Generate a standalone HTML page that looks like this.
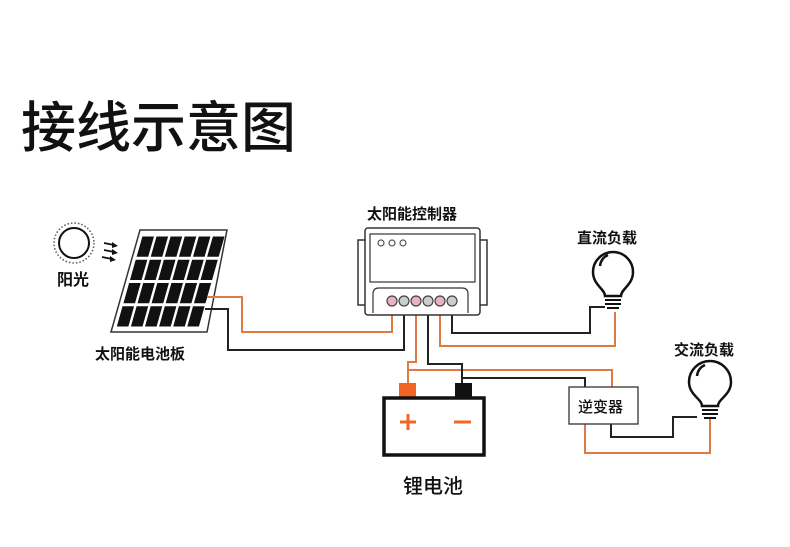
<!DOCTYPE html>
<html><head><meta charset="utf-8"><style>
html,body{margin:0;padding:0;background:#fff;}
svg{display:block;}
text{font-family:"Liberation Sans","Noto Sans CJK SC",sans-serif;fill:#111;}
</style></head><body>
<svg width="790" height="547" viewBox="0 0 790 547" xmlns="http://www.w3.org/2000/svg">
<defs>
<polygon id="r0" points="142.4,236.5 154,236.5 148.2,256.75 136.6,256.75"/>
<polygon id="r1" points="135.7,259.75 147.3,259.75 141.6,280 130,280"/>
<polygon id="r2" points="129.1,283 140.7,283 135,303.25 123.4,303.25"/>
<polygon id="r3" points="122.5,306.25 134.1,306.25 128.4,326.5 116.8,326.5"/>
</defs>
<text x="21" y="147" font-size="55" font-weight="500">接线示意图</text>

<!-- sun -->
<circle cx="74" cy="243" r="15" fill="none" stroke="#111" stroke-width="2"/>
<circle cx="74" cy="243" r="20" fill="none" stroke="#555" stroke-width="1.5" stroke-dasharray="1.5 2"/>
<g stroke="#111" stroke-width="1.8">
<line x1="104" y1="243" x2="114" y2="245"/><line x1="104" y1="250" x2="114" y2="252"/><line x1="102" y1="257" x2="112" y2="259"/>
</g>
<g fill="#111"><polygon points="118,246 112,242 112,248"/><polygon points="118,253 112,249 112,255"/><polygon points="116,260 110,256 110,262"/></g>
<text x="57" y="285" font-size="16" font-weight="bold">阳光</text>

<!-- panel -->
<polygon points="140,230 227,230 207,332 111,332" fill="#fff" stroke="#333" stroke-width="1.5"/>
<g fill="#111">
<use href="#r0"/><use href="#r0" x="14.1"/><use href="#r0" x="28.2"/><use href="#r0" x="42.3"/><use href="#r0" x="56.4"/><use href="#r0" x="70.5"/>
<use href="#r1"/><use href="#r1" x="14.1"/><use href="#r1" x="28.2"/><use href="#r1" x="42.3"/><use href="#r1" x="56.4"/><use href="#r1" x="70.5"/>
<use href="#r2"/><use href="#r2" x="14.1"/><use href="#r2" x="28.2"/><use href="#r2" x="42.3"/><use href="#r2" x="56.4"/><use href="#r2" x="70.5"/>
<use href="#r3"/><use href="#r3" x="14.1"/><use href="#r3" x="28.2"/><use href="#r3" x="42.3"/><use href="#r3" x="56.4"/><use href="#r3" x="70.5"/>
</g>
<text x="95" y="359" font-size="15" font-weight="bold">太阳能电池板</text>

<!-- wires -->
<g fill="none" stroke-width="2">
<polyline stroke="#e07a45" points="207,297 242,297 242,332 392,332 392,315"/>
<polyline stroke="#222" points="205,309 228,309 228,350 404,350 404,315"/>
<polyline stroke="#e07a45" points="416,315 416,362 408,362 408,384"/>
<polyline stroke="#e07a45" points="408,370 612,370 612,387"/>
<polyline stroke="#222" points="428,315 428,364 462,364 462,384"/>
<polyline stroke="#222" points="462,378 585,378 585,387"/>
<polyline stroke="#e07a45" points="440,315 440,346 615,346 615,312"/>
<polyline stroke="#222" points="452,315 452,333 590,333 590,307 605,307"/>
<polyline stroke="#e07a45" points="585,424 585,453 710,453 710,418"/>
<polyline stroke="#222" points="611,424 611,437 673,437 673,417 697,417"/>
</g>

<!-- controller -->
<text x="367" y="219" font-size="15" font-weight="bold">太阳能控制器</text>
<rect x="358" y="240" width="8" height="65" fill="#fff" stroke="#333" stroke-width="1.5"/>
<rect x="479" y="240" width="8" height="65" fill="#fff" stroke="#333" stroke-width="1.5"/>
<rect x="365" y="228" width="115" height="87" rx="3" fill="#fff" stroke="#333" stroke-width="1.5"/>
<rect x="370" y="234" width="105" height="48" fill="#fff" stroke="#333" stroke-width="1.2"/>
<g fill="none" stroke="#555" stroke-width="1.2"><circle cx="381" cy="243" r="3"/><circle cx="392" cy="243" r="3"/><circle cx="403" cy="243" r="3"/></g>
<path d="M373 313 L373 294 Q373 288 379 288 L462 288 Q468 288 468 294 L468 313" fill="#fff" stroke="#333" stroke-width="1.2"/>
<g stroke="#444" stroke-width="1.2">
<circle cx="392" cy="301" r="5" fill="#e8b4c0"/><circle cx="404" cy="301" r="5" fill="#ccc"/>
<circle cx="416" cy="301" r="5" fill="#e8b4c0"/><circle cx="428" cy="301" r="5" fill="#ccc"/>
<circle cx="440" cy="301" r="5" fill="#e8b4c0"/><circle cx="452" cy="301" r="5" fill="#ccc"/>
</g>

<!-- DC bulb -->
<text x="577" y="243" font-size="15" font-weight="bold">直流负载</text>
<path d="M605 296 C605 289 593 285 593 272 A20 20 0 1 1 633 272 C633 285 621 289 621 296 Z" fill="#fff" stroke="#111" stroke-width="2.5"/>
<path d="M600 266 Q601 258 608 255" fill="none" stroke="#111" stroke-width="2.5"/>
<g stroke="#111" stroke-width="2"><line x1="605" y1="300" x2="621" y2="300"/><line x1="605" y1="304" x2="621" y2="304"/><line x1="607" y1="308" x2="619" y2="308"/></g>

<!-- AC bulb -->
<text x="674" y="355" font-size="15" font-weight="bold">交流负载</text>
<path d="M702 406 C702 399 689 395 689 382 A21 21 0 1 1 731 382 C731 395 718 399 718 406 Z" fill="#fff" stroke="#111" stroke-width="2.5"/>
<path d="M697 376 Q698 368 705 365" fill="none" stroke="#111" stroke-width="2.5"/>
<g stroke="#111" stroke-width="2"><line x1="702" y1="410" x2="718" y2="410"/><line x1="702" y1="414" x2="718" y2="414"/><line x1="704" y1="418" x2="716" y2="418"/></g>

<!-- battery -->
<rect x="399" y="383" width="17" height="14" fill="#f26522"/>
<rect x="455" y="383" width="17" height="14" fill="#111"/>
<rect x="384" y="398" width="100" height="57" fill="#fff" stroke="#111" stroke-width="3.5"/>
<g stroke="#f26522" stroke-width="3"><line x1="400" y1="422" x2="416" y2="422"/><line x1="408" y1="414" x2="408" y2="430"/><line x1="454" y1="422" x2="471" y2="422"/></g>
<text x="403" y="493" font-size="20" font-weight="500">锂电池</text>

<!-- inverter -->
<rect x="569" y="387" width="69" height="37" fill="#fff" stroke="#333" stroke-width="1.3"/>
<text x="578" y="412" font-size="15" font-weight="500">逆变器</text>
</svg>
</body></html>
